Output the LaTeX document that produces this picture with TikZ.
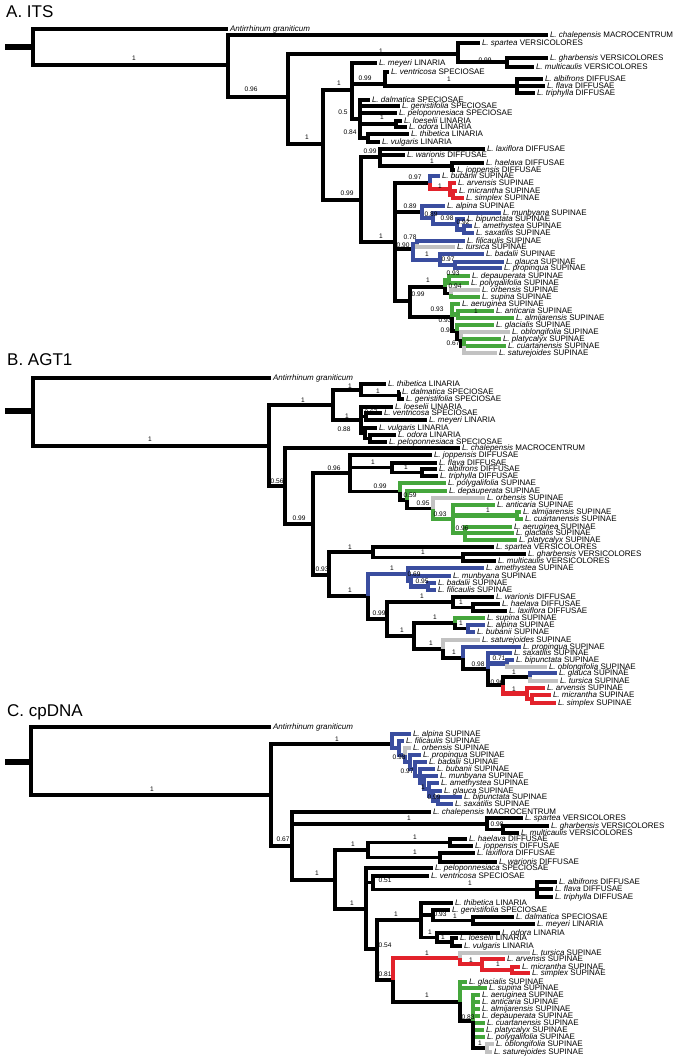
\documentclass[tikz,border=0pt]{standalone}
\usepackage{fontspec}
\setmainfont{Liberation Sans}
\definecolor{cblu}{HTML}{3A4D9F}
\definecolor{cgrn}{HTML}{45A63C}
\definecolor{cred}{HTML}{E2222B}
\definecolor{cgry}{HTML}{C2C2C2}
\newcounter{svc}
\newcommand\tipfont{\fontsize{8}{8}\selectfont}
\newcommand\supfont{\fontsize{6.6}{6.6}\selectfont}
\newcommand\Tip[5]{\coordinate (#1) at (#2,#3); \node[tl] (#1l) at (#1) {\textit{#4} #5};}
\newcommand\E[3][]{\draw[br,#1] (#2) |- (#3);}
\newcommand\Sv[3]{\stepcounter{svc}\node[svl] (sv\arabic{svc}) at (#1,#2) {#3};}
\tikzset{
  br/.style={line width=3.8pt, draw=black},
  eb/.style={draw=cblu, line width=4.4pt},
  eg/.style={draw=cgrn, line width=4.4pt},
  er/.style={draw=cred, line width=4.4pt},
  ey/.style={draw=cgry, line width=4.4pt},
  stub/.style={line width=6pt, draw=black},
  tl/.style={anchor=west, inner xsep=1.8pt, inner ysep=0pt, font=\tipfont, text height=5.8pt, text depth=0pt},
  svl/.style={inner sep=0pt, font=\supfont},
  ttl/.style={anchor=base west, inner sep=0pt, font=\fontsize{17}{17}\selectfont}
}
\begin{document}
\begin{tikzpicture}[x=1pt,y=-1pt]
\path[use as bounding box] (0,0) rectangle (688,1060);
% ================= PANEL A =================
\node[ttl] (tA) at (6,17) {A. ITS};
\coordinate (aS0) at (5,47);
\coordinate (aR) at (33,47);
\coordinate (aAnt) at (228,29); \node[tl] (aAntl) at (aAnt) {\textit{Antirrhinum graniticum}};
\coordinate (aN1) at (228,65);
\Tip{aChal}{548}{35}{L. chalepensis}{MACROCENTRUM}
\coordinate (aN2) at (288,97);
\coordinate (aV) at (458,54);
\Tip{aSpa}{480}{43}{L. spartea}{VERSICOLORES}
\coordinate (aV2) at (507,62);
\Tip{aGha}{548}{58}{L. gharbensis}{VERSICOLORES}
\Tip{aMul}{534}{67}{L. multicaulis}{VERSICOLORES}
\coordinate (aN3) at (323,144);
\coordinate (aLS) at (352,90);
\Tip{aMey}{377}{63}{L. meyeri}{LINARIA}
\coordinate (aVD) at (385,84);
\Tip{aVen}{389}{72}{L. ventricosa}{SPECIOSAE}
\coordinate (aDF) at (517,86);
\Tip{aAlb}{543}{79}{L. albifrons}{DIFFUSAE}
\Tip{aFla}{545}{86}{L. flava}{DIFFUSAE}
\Tip{aTri}{535}{93}{L. triphylla}{DIFFUSAE}
\coordinate (aD) at (360,119);
\Tip{aDal}{370}{100}{L. dalmatica}{SPECIOSAE}
\Tip{aGen}{400}{106}{L. genistifolia}{SPECIOSAE}
\Tip{aPel}{397}{113}{L. peloponnesiaca}{SPECIOSAE}
\coordinate (aLO) at (396,124);
\Tip{aLoe}{402}{121}{L. loeselii}{LINARIA}
\Tip{aOdo}{407}{127}{L. odora}{LINARIA}
\coordinate (aTV) at (368,138);
\Tip{aThi}{409}{134}{L. thibetica}{LINARIA}
\Tip{aVul}{380}{142}{L. vulgaris}{LINARIA}
\coordinate (aN4) at (361,200);
\coordinate (aX) at (380,157);
\Tip{aLax}{485}{149}{L. laxiflora}{DIFFUSAE}
\Tip{aWar}{405}{155}{L. warionis}{DIFFUSAE}
\coordinate (aHJ) at (452,166);
\Tip{aHae}{484}{163}{L. haelava}{DIFFUSAE}
\Tip{aJop}{455}{170}{L. joppensis}{DIFFUSAE}
\coordinate (aS) at (395,242);
\coordinate (aS1) at (430,183);
\Tip{aBub}{440}{176}{L. bubanii}{SUPINAE}
\coordinate (aRd) at (450,189);
\Tip{aArv}{456}{183}{L. arvensis}{SUPINAE}
\coordinate (aMS) at (453,194.5);
\Tip{aMic}{457}{191}{L. micrantha}{SUPINAE}
\Tip{aSim}{464}{198}{L. simplex}{SUPINAE}
\coordinate (aS2) at (422,212);
\Tip{aAlp}{445}{206}{L. alpina}{SUPINAE}
\coordinate (aM2) at (433,218);
\Tip{aMun}{501}{213}{L. munbyana}{SUPINAE}
\coordinate (aB2) at (457,224);
\Tip{aBip}{465}{219}{L. bipunctata}{SUPINAE}
\coordinate (aAS) at (464,229.5);
\Tip{aAme}{472}{226}{L. amethystea}{SUPINAE}
\Tip{aSax}{474}{233}{L. saxatilis}{SUPINAE}
\coordinate (aS3) at (413,249);
\coordinate (aFT) at (417,244);
\Tip{aFil}{465}{241}{L. filicaulis}{SUPINAE}
\Tip{aTur}{455}{247}{L. tursica}{SUPINAE}
\coordinate (aBGP) at (440,260);
\Tip{aBad}{484}{254}{L. badalii}{SUPINAE}
\coordinate (aGP) at (455,265);
\Tip{aGla}{504}{262}{L. glauca}{SUPINAE}
\Tip{aPro}{502}{268}{L. propinqua}{SUPINAE}
\coordinate (aS4) at (410,301);
\coordinate (aG1) at (445,287);
\coordinate (aDP) at (449,280);
\Tip{aDep}{470}{276}{L. depauperata}{SUPINAE}
\Tip{aPol}{469}{283}{L. polygalifolia}{SUPINAE}
\coordinate (aOS) at (451,293.5);
\Tip{aOrb}{480}{290}{L. orbensis}{SUPINAE}
\Tip{aSup}{480}{297}{L. supina}{SUPINAE}
\coordinate (aG2) at (452,317);
\Tip{aAer}{460}{304}{L. aeruginea}{SUPINAE}
\coordinate (aAA) at (458,314.5);
\Tip{aAnt2}{494}{311}{L. anticaria}{SUPINAE}
\Tip{aAlm}{514}{318}{L. almijarensis}{SUPINAE}
\coordinate (aG3) at (457,331);
\Tip{aGlc}{494}{325}{L. glacialis}{SUPINAE}
\coordinate (aG4) at (461,339);
\Tip{aObl}{510}{332}{L. oblongifolia}{SUPINAE}
\coordinate (aG5) at (464,346);
\Tip{aPla}{501}{339}{L. platycalyx}{SUPINAE}
\Tip{aCua}{506}{346}{L. cuartanensis}{SUPINAE}
\Tip{aSat}{497}{353}{L. saturejoides}{SUPINAE}
\draw[stub] (aS0) -- (aR);
\E{aR}{aAnt} \E{aR}{aN1} \E{aN1}{aChal} \E{aN1}{aN2} \E{aN2}{aV} \E{aV}{aSpa} \E{aV}{aV2}
\E{aV2}{aGha} \E{aV2}{aMul} \E{aN2}{aN3} \E{aN3}{aLS} \E{aLS}{aMey} \E{aLS}{aVD} \E{aVD}{aVen}
\E{aVD}{aDF} \E{aDF}{aAlb} \E{aDF}{aFla} \E{aDF}{aTri} \E{aLS}{aD} \E{aD}{aDal} \E{aD}{aGen}
\E{aD}{aPel} \E{aD}{aLO} \E{aLO}{aLoe} \E{aLO}{aOdo} \E{aD}{aTV} \E{aTV}{aThi} \E{aTV}{aVul}
\E{aN3}{aN4} \E{aN4}{aX} \E{aX}{aLax} \E{aX}{aWar} \E{aX}{aHJ} \E{aHJ}{aHae} \E{aHJ}{aJop}
\E{aN4}{aS} \E{aS}{aS1} \E{aS}{aS2} \E{aS}{aS3} \E{aS}{aS4}
\E[eb]{aS1}{aBub} \E[er]{aS1}{aRd} \E[er]{aRd}{aArv} \E[er]{aRd}{aMS} \E[er]{aMS}{aMic} \E[er]{aMS}{aSim}
\E[eb]{aS2}{aAlp} \E[eb]{aS2}{aM2} \E[eb]{aM2}{aMun} \E[eb]{aM2}{aB2} \E[eb]{aB2}{aBip} \E[eb]{aB2}{aAS}
\E[eb]{aAS}{aAme} \E[eb]{aAS}{aSax}
\E[eb]{aS3}{aFT} \E[eb]{aFT}{aFil} \E[ey]{aFT}{aTur} \E[eb]{aS3}{aBGP} \E[eb]{aBGP}{aBad}
\E[eb]{aBGP}{aGP} \E[eb]{aGP}{aGla} \E[eb]{aGP}{aPro}
\E{aS4}{aG1} \E[eg]{aG1}{aDP} \E[eg]{aDP}{aDep} \E[eg]{aDP}{aPol} \E{aG1}{aOS} \E[ey]{aOS}{aOrb} \E[eg]{aOS}{aSup}
\E{aS4}{aG2} \E[eg]{aG2}{aAer} \E[eg]{aG2}{aAA} \E[eg]{aAA}{aAnt2} \E[eg]{aAA}{aAlm} \E{aG2}{aG3}
\E[eg]{aG3}{aGlc} \E{aG3}{aG4} \E[ey]{aG4}{aObl} \E{aG4}{aG5} \E[eg]{aG5}{aPla} \E[eg]{aG5}{aCua} \E[ey]{aG5}{aSat}
\Sv{134}{58}{1} \Sv{251}{89}{0.96} \Sv{381}{51}{1} \Sv{485}{60}{0.99} \Sv{339}{83}{1} \Sv{365}{78}{0.99}
\Sv{449}{79}{1} \Sv{343}{112}{0.5} \Sv{382}{117}{1} \Sv{350}{132}{0.84} \Sv{307}{137}{1}
\Sv{347}{193}{0.99} \Sv{370}{151}{0.99} \Sv{432}{161}{1} \Sv{381}{236}{1} \Sv{415}{177}{0.97}
\Sv{440}{186}{1} \Sv{410}{206}{0.89} \Sv{431}{214}{0.89} \Sv{447}{218}{0.98} \Sv{463}{222}{0.92}
\Sv{410}{237}{0.78} \Sv{403}{245}{0.90} \Sv{427}{254}{1} \Sv{448}{259}{0.97} \Sv{428}{280}{1}
\Sv{418}{294}{0.99} \Sv{453}{273}{0.93} \Sv{455}{286}{0.94} \Sv{437}{309}{0.93} \Sv{476}{311}{1}
\Sv{445}{320}{0.93} \Sv{447}{330}{0.91} \Sv{453}{343}{0.67}
% ================= PANEL B =================
\node[ttl] (tB) at (7,365) {B. AGT1};
\coordinate (bS0) at (5,411);
\coordinate (bR) at (33,411);
\coordinate (bAnt) at (271,378); \node[tl] (bAntl) at (bAnt) {\textit{Antirrhinum graniticum}};
\coordinate (bN1) at (269,446);
\coordinate (bL) at (333,405);
\coordinate (bL1) at (361,390);
\Tip{bThi}{386}{384}{L. thibetica}{LINARIA}
\coordinate (bDG) at (399,395.5);
\Tip{bDal}{400}{392}{L. dalmatica}{SPECIOSAE}
\Tip{bGen}{404}{399}{L. genistifolia}{SPECIOSAE}
\coordinate (bL2) at (361,420);
\Tip{bLoe}{393}{407}{L. loeselii}{LINARIA}
\coordinate (bVM) at (366,416.5);
\Tip{bVen}{382}{413}{L. ventricosa}{SPECIOSAE}
\Tip{bMey}{427}{420}{L. meyeri}{LINARIA}
\coordinate (bVOP) at (365,433);
\Tip{bVul}{377}{428}{L. vulgaris}{LINARIA}
\coordinate (bOP) at (370,438.5);
\Tip{bOdo}{396}{435}{L. odora}{LINARIA}
\Tip{bPel}{387}{442}{L. peloponnesiaca}{SPECIOSAE}
\coordinate (bN2) at (285,486);
\Tip{bChal}{460}{448}{L. chalepensis}{MACROCENTRUM}
\coordinate (bN3) at (313,524);
\coordinate (bN4) at (350,473);
\Tip{bJop}{432}{455}{L. joppensis}{DIFFUSAE}
\coordinate (bFAT) at (392,467.5);
\Tip{bFla}{437}{463}{L. flava}{DIFFUSAE}
\coordinate (bAT) at (422,472.5);
\Tip{bAlb}{437}{469}{L. albifrons}{DIFFUSAE}
\Tip{bTri}{438}{476}{L. triphylla}{DIFFUSAE}
\coordinate (bD2) at (400,491.5);
\Tip{bPol}{446}{483}{L. polygalifolia}{SUPINAE}
\coordinate (bD3) at (407,500);
\Tip{bDep}{447}{491}{L. depauperata}{SUPINAE}
\coordinate (bD4) at (433,508.5);
\Tip{bOrb}{485}{498}{L. orbensis}{SUPINAE}
\coordinate (bD5) at (453,519);
\Tip{bAnt2}{495}{505}{L. anticaria}{SUPINAE}
\coordinate (bAC) at (517,515.5);
\Tip{bAlm}{521}{512}{L. almijarensis}{SUPINAE}
\Tip{bCua}{523}{519}{L. cuartanensis}{SUPINAE}
\coordinate (bAGP) at (465,533);
\Tip{bAer}{512}{527}{L. aeruginea}{SUPINAE}
\Tip{bGlc}{514}{533}{L. glacialis}{SUPINAE}
\Tip{bPla}{517}{540}{L. platycalyx}{SUPINAE}
\coordinate (bN5) at (329,575);
\coordinate (bVER) at (373,552);
\Tip{bSpa}{494}{547}{L. spartea}{VERSICOLORES}
\coordinate (bGM) at (463,557.5);
\Tip{bGha}{526}{554}{L. gharbensis}{VERSICOLORES}
\Tip{bMul}{496}{561}{L. multicaulis}{VERSICOLORES}
\coordinate (bN6) at (368,596);
\coordinate (bBL) at (408,574);
\Tip{bAme}{484}{568}{L. amethystea}{SUPINAE}
\coordinate (bBL2) at (411,581);
\Tip{bMun}{451}{576}{L. munbyana}{SUPINAE}
\coordinate (bBF) at (428,586.5);
\Tip{bBad}{436}{583}{L. badalii}{SUPINAE}
\Tip{bFil}{436}{590}{L. filicaulis}{SUPINAE}
\coordinate (bN7) at (387,619);
\coordinate (bDIF) at (453,602);
\Tip{bWar}{494}{597}{L. warionis}{DIFFUSAE}
\coordinate (bHL) at (473,607.5);
\Tip{bHae}{500}{604}{L. haelava}{DIFFUSAE}
\Tip{bLax}{507}{611}{L. laxiflora}{DIFFUSAE}
\coordinate (bN8) at (414,636);
\coordinate (bSAB) at (455,623);
\Tip{bSup}{485}{618}{L. supina}{SUPINAE}
\coordinate (bAB) at (468,628.5);
\Tip{bAlp}{485}{625}{L. alpina}{SUPINAE}
\Tip{bBub}{475}{632}{L. bubanii}{SUPINAE}
\coordinate (bN9) at (443,649);
\Tip{bSat}{480}{640}{L. saturejoides}{SUPINAE}
\coordinate (bN10) at (463,658);
\Tip{bPro}{521}{647}{L. propinqua}{SUPINAE}
\coordinate (bN11) at (488,669);
\Tip{bSax}{512}{653}{L. saxatilis}{SUPINAE}
\coordinate (bBO) at (507,663.5);
\Tip{bBip}{514}{660}{L. bipunctata}{SUPINAE}
\Tip{bObl}{547}{667}{L. oblongifolia}{SUPINAE}
\coordinate (bN12) at (503,685);
\coordinate (bGT) at (530,677);
\Tip{bGla}{557}{673}{L. glauca}{SUPINAE}
\Tip{bTur}{558}{681}{L. tursica}{SUPINAE}
\coordinate (bRD) at (527,693.5);
\Tip{bArv}{545}{688}{L. arvensis}{SUPINAE}
\coordinate (bMS) at (532,699);
\Tip{bMic}{551}{695}{L. micrantha}{SUPINAE}
\Tip{bSim}{556}{703}{L. simplex}{SUPINAE}
\draw[stub] (bS0) -- (bR);
\E{bR}{bAnt} \E{bR}{bN1} \E{bN1}{bL} \E{bL}{bL1} \E{bL1}{bThi} \E{bL1}{bDG} \E{bDG}{bDal} \E{bDG}{bGen}
\E{bL}{bL2} \E{bL2}{bLoe} \E{bL2}{bVM} \E{bVM}{bVen} \E{bVM}{bMey} \E{bL2}{bVOP} \E{bVOP}{bVul}
\E{bVOP}{bOP} \E{bOP}{bOdo} \E{bOP}{bPel}
\E{bN1}{bN2} \E{bN2}{bChal} \E{bN2}{bN3} \E{bN3}{bN4} \E{bN4}{bJop} \E{bN4}{bFAT} \E{bFAT}{bFla}
\E{bFAT}{bAT} \E{bAT}{bAlb} \E{bAT}{bTri} \E{bN4}{bD2} \E[eg]{bD2}{bPol} \E{bD2}{bD3} \E[eg]{bD3}{bDep}
\E{bD3}{bD4} \E[ey]{bD4}{bOrb} \E[eg]{bD4}{bD5} \E[eg]{bD5}{bAnt2} \E[eg]{bD5}{bAC} \E[eg]{bAC}{bAlm}
\E[eg]{bAC}{bCua} \E[eg]{bD5}{bAGP} \E[eg]{bAGP}{bAer} \E[eg]{bAGP}{bGlc} \E[eg]{bAGP}{bPla}
\E{bN3}{bN5} \E{bN5}{bVER} \E{bVER}{bSpa} \E{bVER}{bGM} \E{bGM}{bGha} \E{bGM}{bMul} \E{bN5}{bN6}
\E[eb]{bN6}{bBL} \E[eb]{bBL}{bAme} \E[eb]{bBL}{bBL2} \E[eb]{bBL2}{bMun} \E[eb]{bBL2}{bBF}
\E[eb]{bBF}{bBad} \E[eb]{bBF}{bFil}
\E{bN6}{bN7} \E{bN7}{bDIF} \E{bDIF}{bWar} \E{bDIF}{bHL} \E{bHL}{bHae} \E{bHL}{bLax} \E{bN7}{bN8}
\E{bN8}{bSAB} \E[eg]{bSAB}{bSup} \E{bSAB}{bAB} \E[eb]{bAB}{bAlp} \E[eb]{bAB}{bBub} \E{bN8}{bN9}
\E[ey]{bN9}{bSat} \E{bN9}{bN10} \E[eb]{bN10}{bPro} \E{bN10}{bN11} \E[eb]{bN11}{bSax} \E[eb]{bN11}{bBO}
\E[eb]{bBO}{bBip} \E[ey]{bBO}{bObl} \E{bN11}{bN12} \E{bN12}{bGT} \E[eb]{bGT}{bGla} \E[ey]{bGT}{bTur}
\E[er]{bN12}{bRD} \E[er]{bRD}{bArv} \E[er]{bRD}{bMS} \E[er]{bMS}{bMic} \E[er]{bMS}{bSim}
\Sv{150}{439}{1} \Sv{303}{400}{1} \Sv{350}{386}{1} \Sv{378}{391}{1} \Sv{347}{416}{1} \Sv{371}{412}{0.67}
\Sv{344}{429}{0.88} \Sv{277}{481}{0.56} \Sv{299}{518}{0.99} \Sv{334}{468}{0.96} \Sv{373}{462}{1}
\Sv{406}{467}{1} \Sv{380}{486}{0.99} \Sv{410}{495}{0.59} \Sv{423}{503}{0.95} \Sv{440}{514}{0.93}
\Sv{488}{510}{1} \Sv{462}{528}{0.96} \Sv{322}{569}{0.93} \Sv{350}{547}{1} \Sv{423}{552}{1}
\Sv{350}{590}{1} \Sv{392}{568}{1} \Sv{414}{574}{0.69} \Sv{422}{581}{0.95} \Sv{379}{613}{0.99}
\Sv{422}{596}{1} \Sv{461}{602}{1} \Sv{402}{630}{1} \Sv{435}{617}{1} \Sv{461}{623}{1} \Sv{431}{643}{1}
\Sv{454}{652}{1} \Sv{478}{664}{0.98} \Sv{499}{658}{0.71} \Sv{497}{682}{0.96} \Sv{514}{672}{1} \Sv{514}{689}{1}
% ================= PANEL C =================
\node[ttl] (tC) at (7,716) {C. cpDNA};
\coordinate (cS0) at (5,762);
\coordinate (cR) at (31,762);
\coordinate (cAnt) at (271,727); \node[tl] (cAntl) at (cAnt) {\textit{Antirrhinum graniticum}};
\coordinate (cN1) at (271,795);
\coordinate (cBC) at (392,744);
\Tip{cAlp}{411}{734}{L. alpina}{SUPINAE}
\coordinate (cC2) at (399,748);
\Tip{cFil}{404}{741}{L. filicaulis}{SUPINAE}
\coordinate (cC3) at (405,755);
\Tip{cOrb}{411}{748}{L. orbensis}{SUPINAE}
\coordinate (cC4) at (410,762);
\Tip{cPro}{421}{755}{L. propinqua}{SUPINAE}
\coordinate (cC5) at (415,769);
\Tip{cBad}{427}{762}{L. badalii}{SUPINAE}
\coordinate (cC6) at (420,776);
\Tip{cBub}{435}{769}{L. bubanii}{SUPINAE}
\coordinate (cC7) at (424,783);
\Tip{cMun}{438}{776}{L. munbyana}{SUPINAE}
\coordinate (cC8) at (429,789);
\Tip{cAme}{439}{783}{L. amethystea}{SUPINAE}
\coordinate (cC9) at (433,796);
\Tip{cGla}{442}{791}{L. glauca}{SUPINAE}
\coordinate (cSB) at (438,800.5);
\Tip{cBip}{462}{797}{L. bipunctata}{SUPINAE}
\Tip{cSax}{453}{804}{L. saxatilis}{SUPINAE}
\coordinate (cN2) at (292,846);
\Tip{cChal}{431}{812}{L. chalepensis}{MACROCENTRUM}
\coordinate (cVER) at (487,824);
\Tip{cSpa}{523}{818}{L. spartea}{VERSICOLORES}
\coordinate (cGM) at (503,829.5);
\Tip{cGha}{549}{826}{L. gharbensis}{VERSICOLORES}
\Tip{cMul}{519}{833}{L. multicaulis}{VERSICOLORES}
\coordinate (cN3) at (335,880);
\coordinate (cDIF) at (368,850);
\coordinate (cHJ) at (450,842.5);
\Tip{cHae}{467}{839}{L. haelava}{DIFFUSAE}
\Tip{cJop}{473}{846}{L. joppensis}{DIFFUSAE}
\coordinate (cLW) at (440,857.5);
\Tip{cLax}{475}{853}{L. laxiflora}{DIFFUSAE}
\Tip{cWar}{497}{862}{L. warionis}{DIFFUSAE}
\coordinate (cN4) at (366,909);
\Tip{cPel}{433}{868}{L. peloponnesiaca}{SPECIOSAE}
\coordinate (cVEN) at (373,882.5);
\Tip{cVen}{429}{876}{L. ventricosa}{SPECIOSAE}
\coordinate (cAFT) at (537,889.5);
\Tip{cAlb}{557}{882}{L. albifrons}{DIFFUSAE}
\Tip{cFla}{553}{889}{L. flava}{DIFFUSAE}
\Tip{cTri}{553}{897}{L. triphylla}{DIFFUSAE}
\coordinate (cN5) at (377,949);
\coordinate (cLIN) at (421,920);
\Tip{cThi}{453}{903}{L. thibetica}{LINARIA}
\coordinate (cGDM) at (433,915);
\Tip{cGen}{450}{910}{L. genistifolia}{SPECIOSAE}
\coordinate (cDM) at (473,920.5);
\Tip{cDal}{514}{917}{L. dalmatica}{SPECIOSAE}
\Tip{cMey}{535}{924}{L. meyeri}{LINARIA}
\coordinate (cOLV) at (437,937.5);
\Tip{cOdo}{500}{933}{L. odora}{LINARIA}
\coordinate (cLV) at (452,942);
\Tip{cLoe}{458}{938}{L. loeselii}{LINARIA}
\Tip{cVul}{462}{946}{L. vulgaris}{LINARIA}
\coordinate (cN6) at (393,980);
\coordinate (cRD) at (460,958);
\Tip{cTur}{530}{953}{L. tursica}{SUPINAE}
\coordinate (cARV) at (482,964);
\Tip{cArv}{505}{959}{L. arvensis}{SUPINAE}
\coordinate (cMS) at (512,970);
\Tip{cMic}{520}{967}{L. micrantha}{SUPINAE}
\Tip{cSim}{530}{973}{L. simplex}{SUPINAE}
\coordinate (cGRN) at (460,1002);
\Tip{cGlc}{467}{982}{L. glacialis}{SUPINAE}
\Tip{cSup}{487}{988}{L. supina}{SUPINAE}
\coordinate (cGP) at (473,1021);
\Tip{cAer}{480}{995}{L. aeruginea}{SUPINAE}
\Tip{cAnt2}{480}{1002}{L. anticaria}{SUPINAE}
\Tip{cAlm}{480}{1009}{L. almijarensis}{SUPINAE}
\Tip{cDep}{480}{1016}{L. depauperata}{SUPINAE}
\Tip{cCua}{485}{1023}{L. cuartanensis}{SUPINAE}
\Tip{cPla}{484}{1030}{L. platycalyx}{SUPINAE}
\Tip{cPol}{485}{1037}{L. polygalifolia}{SUPINAE}
\coordinate (cOS) at (487,1048);
\Tip{cObl}{494}{1044}{L. oblongifolia}{SUPINAE}
\Tip{cSat}{492}{1052}{L. saturejoides}{SUPINAE}
\draw[stub] (cS0) -- (cR);
\E{cR}{cAnt} \E{cR}{cN1} \E{cN1}{cBC}
\E[eb]{cBC}{cAlp} \E[eb]{cBC}{cC2} \E[eb]{cC2}{cFil} \E[eb]{cC2}{cC3} \E[ey]{cC3}{cOrb} \E[eb]{cC3}{cC4}
\E[eb]{cC4}{cPro} \E[eb]{cC4}{cC5} \E[eb]{cC5}{cBad} \E[eb]{cC5}{cC6} \E[eb]{cC6}{cBub} \E[eb]{cC6}{cC7}
\E[eb]{cC7}{cMun} \E[eb]{cC7}{cC8} \E[eb]{cC8}{cAme} \E[eb]{cC8}{cC9} \E[eb]{cC9}{cGla} \E[eb]{cC9}{cSB}
\E[eb]{cSB}{cBip} \E[eb]{cSB}{cSax}
\E{cN1}{cN2} \E{cN2}{cChal} \E{cN2}{cVER} \E{cVER}{cSpa} \E{cVER}{cGM} \E{cGM}{cGha} \E{cGM}{cMul}
\E{cN2}{cN3} \E{cN3}{cDIF} \E{cDIF}{cHJ} \E{cHJ}{cHae} \E{cHJ}{cJop} \E{cDIF}{cLW} \E{cLW}{cLax}
\E{cLW}{cWar} \E{cN3}{cN4} \E{cN4}{cPel} \E{cN4}{cVEN} \E{cVEN}{cVen} \E{cVEN}{cAFT} \E{cAFT}{cAlb}
\E{cAFT}{cFla} \E{cAFT}{cTri} \E{cN4}{cN5} \E{cN5}{cLIN} \E{cLIN}{cThi} \E{cLIN}{cGDM} \E{cGDM}{cGen}
\E{cGDM}{cDM} \E{cDM}{cDal} \E{cDM}{cMey} \E{cLIN}{cOLV} \E{cOLV}{cOdo} \E{cOLV}{cLV} \E{cLV}{cLoe}
\E{cLV}{cVul} \E{cN5}{cN6}
\E[er]{cN6}{cRD} \E[ey]{cRD}{cTur} \E[er]{cRD}{cARV} \E[er]{cARV}{cArv} \E[er]{cARV}{cMS}
\E[er]{cMS}{cMic} \E[er]{cMS}{cSim}
\E{cN6}{cGRN} \E[eg]{cGRN}{cGlc} \E[eg]{cGRN}{cSup} \E{cGRN}{cGP} \E[eg]{cGP}{cAer} \E[eg]{cGP}{cAnt2}
\E[eg]{cGP}{cAlm} \E[eg]{cGP}{cDep} \E[eg]{cGP}{cCua} \E[eg]{cGP}{cPla} \E[eg]{cGP}{cPol} \E{cGP}{cOS}
\E[ey]{cOS}{cObl} \E[ey]{cOS}{cSat}
\Sv{152}{789}{1} \Sv{337}{739}{1} \Sv{399}{757}{0.98} \Sv{407}{771}{0.97} \Sv{423}{787}{1} \Sv{434}{797}{0.99}
\Sv{283}{839}{0.67} \Sv{409}{818}{1} \Sv{497}{824}{0.98} \Sv{317}{873}{1} \Sv{353}{844}{1}
\Sv{415}{837}{1} \Sv{415}{852}{1} \Sv{352}{903}{1} \Sv{385}{880}{0.51} \Sv{470}{883}{1}
\Sv{385}{945}{0.54} \Sv{396}{914}{1} \Sv{440}{914}{0.93} \Sv{455}{916}{1} \Sv{430}{932}{1} \Sv{443}{937}{1}
\Sv{385}{974}{0.81} \Sv{427}{953}{1} \Sv{471}{960}{1} \Sv{498}{964}{1} \Sv{427}{995}{1} \Sv{468}{1017}{0.83}
\Sv{480}{1043}{1}
\end{tikzpicture}
\end{document}
